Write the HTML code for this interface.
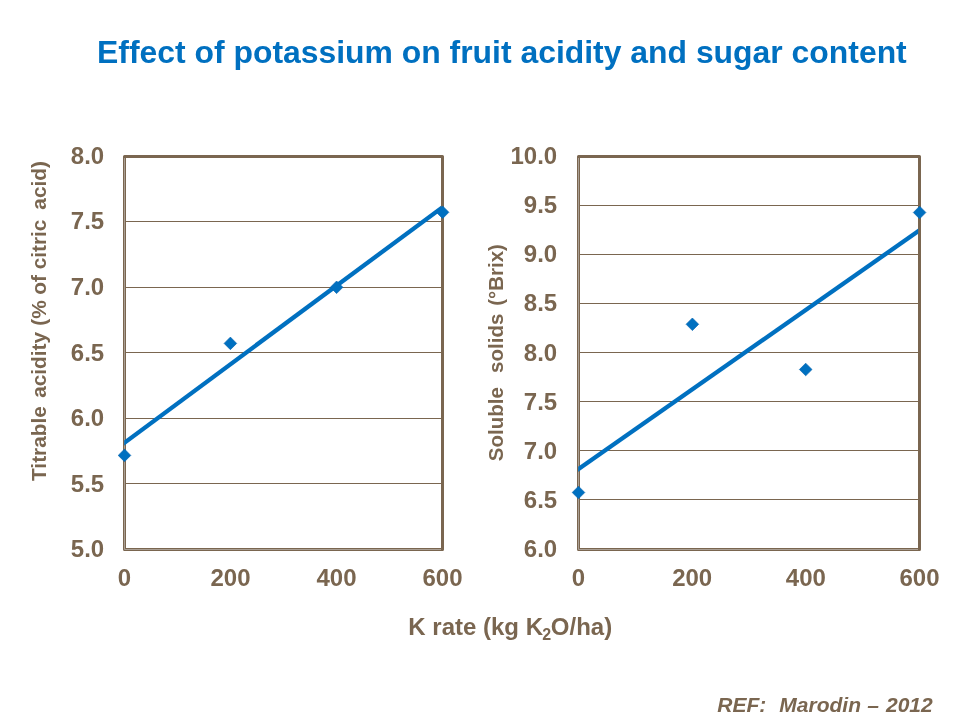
<!DOCTYPE html>
<html><head><meta charset="utf-8"><title>Effect of potassium on fruit acidity and sugar content</title>
<style>html,body{margin:0;padding:0;background:#fff;overflow:hidden}svg{display:block;will-change:transform}text{font-family:"Liberation Sans",sans-serif;font-weight:bold;white-space:pre}.b{fill:#7a6650}.t{font-size:24px}.m{text-anchor:middle}</style></head><body>
<svg width="960" height="720" viewBox="0 0 960 720">
<rect width="960" height="720" fill="#ffffff"/>
<text x="97" y="62.5" font-size="31.9" fill="#0070c0">Effect of potassium on fruit acidity and sugar content</text>
<line x1="124.50" y1="221.50" x2="442.50" y2="221.50" stroke="#7a6650" stroke-width="1.05"/>
<line x1="124.50" y1="287.50" x2="442.50" y2="287.50" stroke="#7a6650" stroke-width="1.05"/>
<line x1="124.50" y1="352.50" x2="442.50" y2="352.50" stroke="#7a6650" stroke-width="1.05"/>
<line x1="124.50" y1="418.50" x2="442.50" y2="418.50" stroke="#7a6650" stroke-width="1.05"/>
<line x1="124.50" y1="483.50" x2="442.50" y2="483.50" stroke="#7a6650" stroke-width="1.05"/>
<text class="b t" x="104.2" y="163.80" text-anchor="end">8.0</text>
<text class="b t" x="104.2" y="229.30" text-anchor="end">7.5</text>
<text class="b t" x="104.2" y="294.80" text-anchor="end">7.0</text>
<text class="b t" x="104.2" y="361.20" text-anchor="end">6.5</text>
<text class="b t" x="104.2" y="425.80" text-anchor="end">6.0</text>
<text class="b t" x="104.2" y="491.80" text-anchor="end">5.5</text>
<text class="b t" x="104.2" y="556.80" text-anchor="end">5.0</text>
<text class="b t m" x="124.50" y="585.8">0</text>
<text class="b t m" x="230.50" y="585.8">200</text>
<text class="b t m" x="336.50" y="585.8">400</text>
<text class="b t m" x="442.50" y="585.8">600</text>
<rect x="124.5" y="156.5" width="318.0" height="393.0" fill="none" stroke="#7a6650" stroke-width="3" stroke-linejoin="round"/>
<path d="M124.50 158.00 V549.50 H441.00" fill="none" stroke="#aa9f94" stroke-width="1"/>
<clipPath id="c124"><rect x="124.20" y="156.5" width="317.00" height="393.0"/></clipPath>
<line x1="121.50" y1="444.92" x2="445.50" y2="204.98" stroke="#0070c0" stroke-width="4.3" clip-path="url(#c124)"/>
<path d="M124.50 449.10 L130.80 455.40 L124.50 461.70 L118.20 455.40 Z" fill="#0070c0" stroke="#0867b2" stroke-width="0.7"/>
<path d="M230.40 337.10 L236.70 343.40 L230.40 349.70 L224.10 343.40 Z" fill="#0070c0" stroke="#0867b2" stroke-width="0.7"/>
<path d="M336.60 281.00 L342.90 287.30 L336.60 293.60 L330.30 287.30 Z" fill="#0070c0" stroke="#0867b2" stroke-width="0.7"/>
<path d="M442.60 206.00 L448.90 212.30 L442.60 218.60 L436.30 212.30 Z" fill="#0070c0" stroke="#0867b2" stroke-width="0.7"/>
<line x1="578.50" y1="205.50" x2="919.50" y2="205.50" stroke="#7a6650" stroke-width="1.05"/>
<line x1="578.50" y1="254.50" x2="919.50" y2="254.50" stroke="#7a6650" stroke-width="1.05"/>
<line x1="578.50" y1="303.50" x2="919.50" y2="303.50" stroke="#7a6650" stroke-width="1.05"/>
<line x1="578.50" y1="352.50" x2="919.50" y2="352.50" stroke="#7a6650" stroke-width="1.05"/>
<line x1="578.50" y1="401.50" x2="919.50" y2="401.50" stroke="#7a6650" stroke-width="1.05"/>
<line x1="578.50" y1="450.50" x2="919.50" y2="450.50" stroke="#7a6650" stroke-width="1.05"/>
<line x1="578.50" y1="499.50" x2="919.50" y2="499.50" stroke="#7a6650" stroke-width="1.05"/>
<text class="b t" x="557.2" y="163.80" text-anchor="end">10.0</text>
<text class="b t" x="557.2" y="212.93" text-anchor="end">9.5</text>
<text class="b t" x="557.2" y="262.05" text-anchor="end">9.0</text>
<text class="b t" x="557.2" y="311.18" text-anchor="end">8.5</text>
<text class="b t" x="557.2" y="361.10" text-anchor="end">8.0</text>
<text class="b t" x="557.2" y="410.03" text-anchor="end">7.5</text>
<text class="b t" x="557.2" y="458.55" text-anchor="end">7.0</text>
<text class="b t" x="557.2" y="507.68" text-anchor="end">6.5</text>
<text class="b t" x="557.2" y="556.80" text-anchor="end">6.0</text>
<text class="b t m" x="578.50" y="585.8">0</text>
<text class="b t m" x="692.17" y="585.8">200</text>
<text class="b t m" x="805.83" y="585.8">400</text>
<text class="b t m" x="919.50" y="585.8">600</text>
<rect x="578.5" y="156.5" width="341.0" height="393.0" fill="none" stroke="#7a6650" stroke-width="3" stroke-linejoin="round"/>
<path d="M578.50 158.00 V549.50 H918.00" fill="none" stroke="#aa9f94" stroke-width="1"/>
<clipPath id="c578"><rect x="578.20" y="156.5" width="340.00" height="393.0"/></clipPath>
<line x1="575.50" y1="471.20" x2="922.50" y2="228.20" stroke="#0070c0" stroke-width="4.3" clip-path="url(#c578)"/>
<path d="M578.50 486.20 L584.80 492.50 L578.50 498.80 L572.20 492.50 Z" fill="#0070c0" stroke="#0867b2" stroke-width="0.7"/>
<path d="M692.40 318.00 L698.70 324.30 L692.40 330.60 L686.10 324.30 Z" fill="#0070c0" stroke="#0867b2" stroke-width="0.7"/>
<path d="M805.70 363.20 L812.00 369.50 L805.70 375.80 L799.40 369.50 Z" fill="#0070c0" stroke="#0867b2" stroke-width="0.7"/>
<path d="M919.60 206.20 L925.90 212.50 L919.60 218.80 L913.30 212.50 Z" fill="#0070c0" stroke="#0867b2" stroke-width="0.7"/>
<g class="b m" font-size="20.8" transform="translate(46.1,0) rotate(-90)">
<text x="-443.60" y="0">Titrable</text>
<text x="-364.90" y="0">acidity</text>
<text x="-313.10" y="0">(%</text>
<text x="-285.00" y="0">of</text>
<text x="-244.45" y="0">citric</text>
<text x="-185.40" y="0">acid)</text>
</g>
<g class="b m" font-size="20.5" transform="translate(503.0,0) rotate(-90)">
<text x="-424.20" y="0">Soluble</text>
<text x="-343.30" y="0">solids</text>
<text x="-274.95" y="0">(°Brix)</text>
</g>
<text class="b" font-size="24" x="408.3" y="634.9">K rate (kg K<tspan font-size="16" dy="5" dx="-0.8">2</tspan><tspan dy="-5" dx="-0.3">O/ha)</tspan></text>
<g class="b" font-size="21" font-style="italic">
<text x="717.3" y="711.8">REF:</text><text x="779.3" y="711.8">Marodin</text><text x="867.2" y="711.8">–</text><text x="886.0" y="711.8">2012</text>
</g>
</svg></body></html>
